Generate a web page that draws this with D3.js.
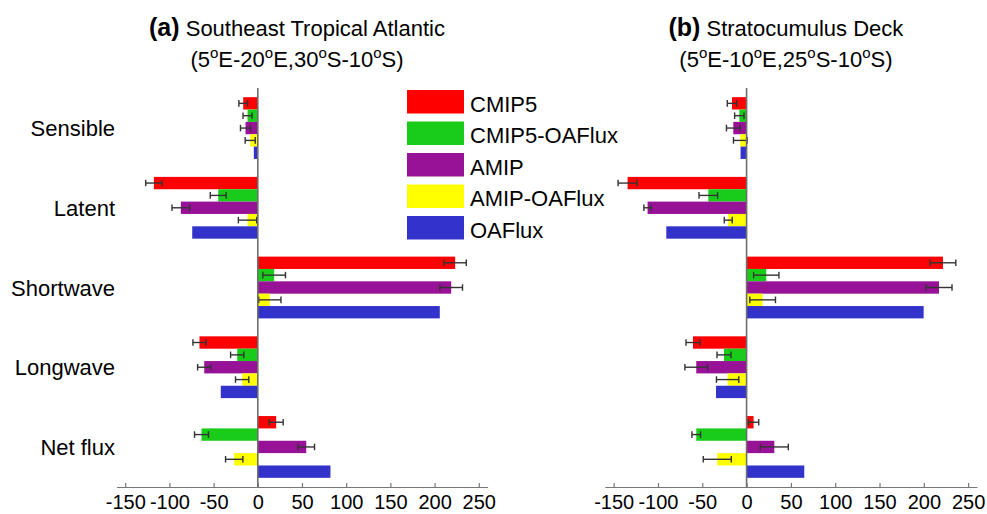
<!DOCTYPE html>
<html>
<head>
<meta charset="utf-8">
<script src="https://cdn.jsdelivr.net/npm/d3@7"></script>
<style>
  html, body { margin: 0; padding: 0; background: #fff; }
  svg { display: block; font-family: "Liberation Sans", Arial, Helvetica, sans-serif; }
</style>
</head>
<body>
<svg id="chart" width="987" height="514"></svg>
<script>
// Surface heat flux components (W m-2) over two regions
const categories = ["Sensible", "Latent", "Shortwave", "Longwave", "Net flux"];
const seriesNames = ["CMIP5", "CMIP5-OAFlux", "AMIP", "AMIP-OAFlux", "OAFlux"];
const seriesColors = ["#ff0000", "#1acc1a", "#971297", "#ffff00", "#3333cc"];
const tickValues = [-150, -100, -50, 0, 50, 100, 150, 200, 250];

// (a) Southeast Tropical Atlantic
const cmip5A      = [-16.5, -117.6, 223.3, -66.0, 20.8];
const cmip5OafA   = [-11.6,  -44.8,  18.5, -23.3, -63.7];
const amipA       = [-13.9,  -87.1, 218.8, -60.6, 54.8];
const amipOafA    = [ -8.6,  -11.6,  13.6, -17.7, -26.7];
const oafluxA     = [ -4.5,  -74.2, 205.9, -41.9, 82.2];
const cmip5ErrA    = [4.9,  9.2, 12.6, 7.4, 7.9];
const cmip5OafErrA = [5.1,  9.0, 12.8, 7.5, 7.9];
const amipErrA     = [5.7, 10.0, 12.8, 7.5, 9.4];
const amipOafErrA  = [5.7, 10.4, 12.6, 7.5, 9.8];

// (b) Stratocumulus Deck
const cmip5B      = [-16.5, -134.3, 221.6, -60.5,   7.9];
const cmip5OafB   = [ -8.2,  -43.2,  22.2, -25.5, -56.8];
const amipB       = [-15.0, -111.7, 217.1, -56.8,  31.3];
const amipOafB    = [ -7.1,  -20.7,  18.1, -21.4, -33.1];
const oafluxB     = [ -6.8,  -90.6, 199.8, -34.5,  65.1];
const cmip5ErrB    = [5.3, 10.7, 14.5,  7.9,  5.8];
const cmip5OafErrB = [5.3, 10.5, 14.3,  7.9,  4.9];
const amipErrB     = [7.7,  4.2, 14.7, 12.8, 15.8];
const amipOafErrB  = [7.7,  4.5, 14.5, 12.6, 15.8];

const panels = [
  {
    tag: "(a)", title: "Southeast Tropical Atlantic",
    region: [["5", "E-20", "E,30", "S-10", "S)"]],
    values: [cmip5A, cmip5OafA, amipA, amipOafA, oafluxA],
    errors: [cmip5ErrA, cmip5OafErrA, amipErrA, amipOafErrA, null],
    range: [116.4, 487.6], showLabels: true
  },
  {
    tag: "(b)", title: "Stratocumulus Deck",
    region: [["5", "E-10", "E,25", "S-10", "S)"]],
    values: [cmip5B, cmip5OafB, amipB, amipOafB, oafluxB],
    errors: [cmip5ErrB, cmip5OafErrB, amipErrB, amipOafErrB, null],
    range: [604.8, 977.0], showLabels: false
  }
];

const svg = d3.select("#chart");
const plotTop = 88, plotBottom = 487;

const y = d3.scaleBand().domain(categories).range([plotTop, plotBottom])
  .paddingInner(0.225).paddingOuter(0.115);
const ySub = d3.scaleBand().domain(seriesNames).range([0, y.bandwidth()]).padding(0);

panels.forEach(p => {
  const x = d3.scaleLinear().domain([-160, 260]).range(p.range);
  const g = svg.append("g");
  const cx = (p.range[0] + p.range[1]) / 2 - 5;

  // title
  const t1 = g.append("text").attr("x", cx).attr("y", 36).attr("text-anchor", "middle")
    .attr("fill", "#000");
  t1.append("tspan").attr("font-weight", "bold").attr("font-size", 25).text(p.tag);
  t1.append("tspan").attr("font-size", 22).text(" " + p.title);

  const parts = p.region[0];
  const t2 = g.append("text").attr("x", cx).attr("y", 67).attr("text-anchor", "middle")
    .attr("font-size", 22).attr("fill", "#000");
  t2.append("tspan").text("(" + parts[0]);
  parts.slice(1).forEach(s => {
    t2.append("tspan").attr("font-size", 15).attr("dy", -9).text("o");
    t2.append("tspan").attr("dy", 9).text(s);
  });

  // bars
  p.values.forEach((vals, si) => {
    const name = seriesNames[si];
    g.append("g").selectAll("rect").data(vals).join("rect")
      .attr("x", v => x(Math.min(0, v)))
      .attr("width", v => Math.abs(x(v) - x(0)))
      .attr("y", (v, i) => y(categories[i]) + ySub(name))
      .attr("height", ySub.bandwidth())
      .attr("fill", seriesColors[si]);
  });

  // error bars centred on bar ends
  p.errors.forEach((errs, si) => {
    if (!errs) return;
    const name = seriesNames[si];
    const vals = p.values[si];
    const eg = g.append("g").attr("stroke", "#333").attr("stroke-width", 1.4).attr("fill", "none");
    errs.forEach((e, i) => {
      const cy = y(categories[i]) + ySub(name) + ySub.bandwidth() / 2;
      const x0 = x(vals[i] - e), x1 = x(vals[i] + e);
      eg.append("line").attr("x1", x0).attr("x2", x1).attr("y1", cy).attr("y2", cy);
      eg.append("line").attr("x1", x0).attr("x2", x0).attr("y1", cy - 3.3).attr("y2", cy + 3.3);
      eg.append("line").attr("x1", x1).attr("x2", x1).attr("y1", cy - 3.3).attr("y2", cy + 3.3);
    });
  });

  // zero line
  g.append("line").attr("x1", x(0)).attr("x2", x(0)).attr("y1", plotTop).attr("y2", plotBottom)
    .attr("stroke", "#6e6e6e").attr("stroke-width", 1.6);

  // x axis
  const axis = d3.axisBottom(x).tickValues(tickValues).tickSizeInner(-4).tickSizeOuter(0)
    .tickPadding(8).tickFormat(d => String(d));
  const ax = g.append("g").attr("transform", `translate(0,${plotBottom})`).call(axis);
  ax.select(".domain").attr("stroke", "#777").attr("stroke-width", 1.2);
  ax.selectAll(".tick line").attr("stroke", "#777").attr("stroke-width", 1.2);
  ax.selectAll(".tick text").attr("font-size", 20).attr("fill", "#000")
    .attr("font-family", "'Liberation Sans', Arial, sans-serif");

  // category labels
  if (p.showLabels) {
    g.append("g").selectAll("text").data(categories).join("text")
      .attr("x", 115).attr("y", c => y(c) + y.bandwidth() / 2 + 8)
      .attr("text-anchor", "end").attr("font-size", 22).attr("fill", "#000")
      .text(c => c);
  }
});

// legend
const legend = svg.append("g").attr("transform", "translate(407,90)");
const legY = d3.scalePoint().domain(seriesNames).range([0, 126]);
seriesNames.forEach((n, i) => {
  legend.append("rect").attr("x", 0).attr("y", legY(n)).attr("width", 57).attr("height", 23.5)
    .attr("fill", seriesColors[i]);
  legend.append("text").attr("x", 63).attr("y", legY(n) + 21.5).attr("font-size", 22)
    .attr("fill", "#000").text(n);
});
</script>
</body>
</html>
